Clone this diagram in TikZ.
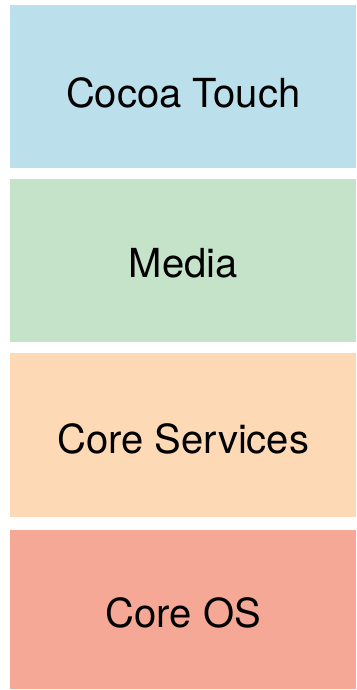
\documentclass[tikz,border=0pt]{standalone}
\usepackage{fontspec}
\setmainfont{TeX Gyre Heros}
\usepackage{tikz}
\usetikzlibrary{positioning}

\definecolor{touchblue}{HTML}{BCE0EB}
\definecolor{mediagreen}{HTML}{C5E3C8}
\definecolor{servorange}{HTML}{FDD9B5}
\definecolor{osred}{HTML}{F5A895}

\tikzset{
  layer/.style={rectangle,inner sep=0pt,minimum width=346pt,anchor=north west},
  layertext/.style={font=\fontsize{40}{48}\selectfont,inner sep=0pt}
}

\begin{document}
\begin{tikzpicture}[x=1pt,y=-1pt]
              \useasboundingbox (0,0) rectangle (356,690);
              % the four layers, top to bottom
              \node[layer,fill=touchblue,minimum height=163pt](touch)at(10,5){};
              \node[layer,fill=mediagreen,minimum height=163pt](media)at(10,179){};
              \node[layer,fill=servorange,minimum height=164pt](serv)at(10,353){};
              \node[layer,fill=osred,minimum height=159pt](os)at(10,530){};
              \node[layertext] (touchlbl) at ([yshift=-6pt]touch.center) {Cocoa Touch};
              \node[layertext] (medialbl) at ([yshift=-3pt]media.center) {Media};
              \node[layertext] (servlbl) at ([yshift=-4pt]serv.center) {Core Services};
              \node[layertext] (oslbl) at ([yshift=-3pt]os.center) {Core OS};
            \end{tikzpicture}
\end{document}
